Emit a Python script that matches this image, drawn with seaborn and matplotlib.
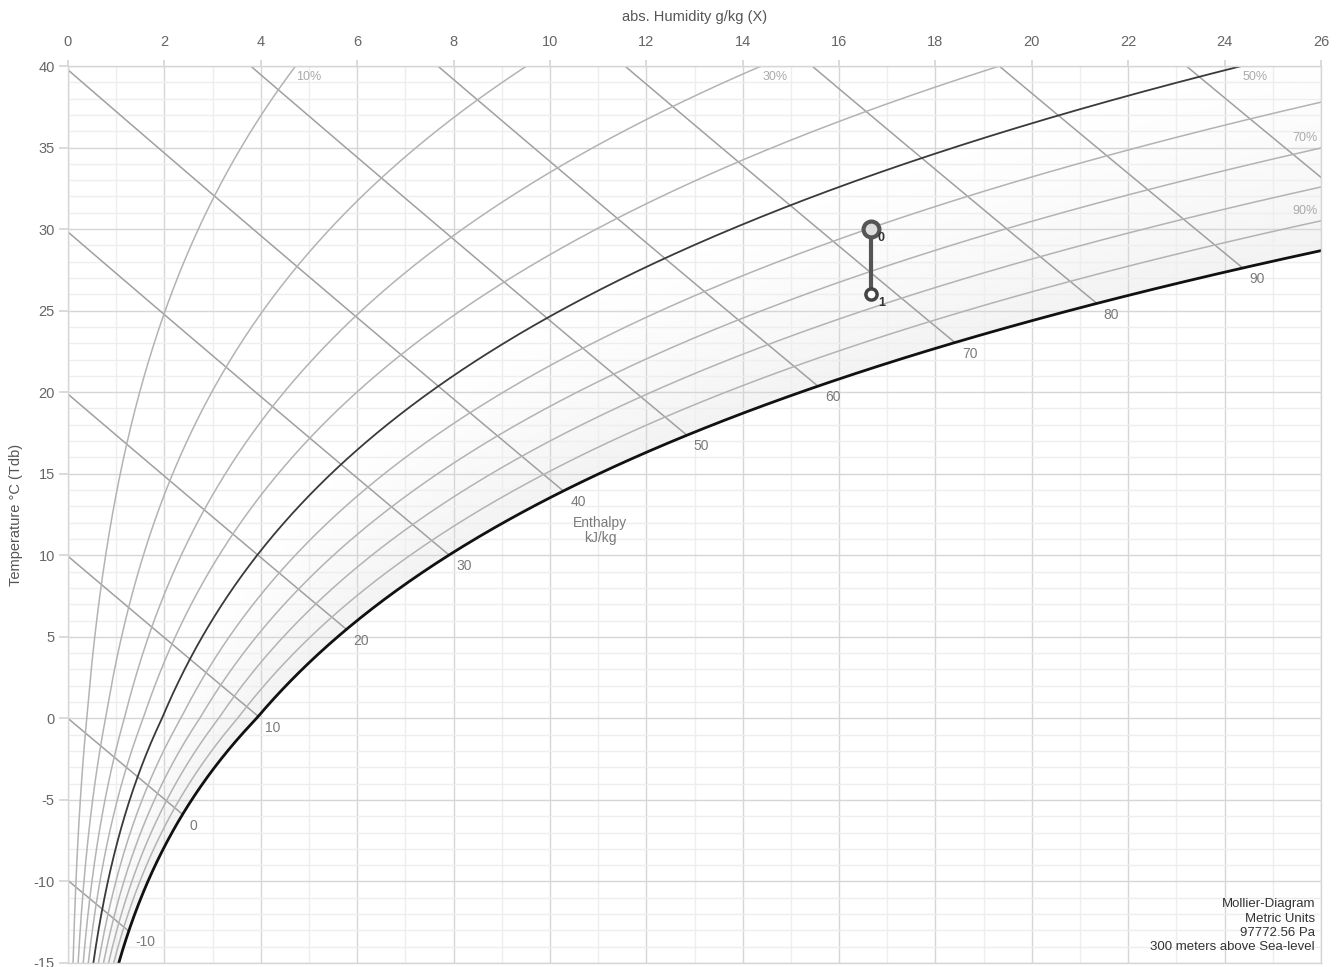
import numpy as np
import pandas as pd
import matplotlib
matplotlib.use("Agg")
import matplotlib.pyplot as plt
from matplotlib.ticker import MultipleLocator
import seaborn as sns

# ---- chart data -------------------------------------------------------------
pressure_pa = 97772.56
altitude_m = 300
rh_levels = [10, 20, 30, 40, 50, 60, 70, 80, 90, 100]
rh_labelled = [10, 30, 50, 70, 90]
enthalpy_levels = [-10, 0, 10, 20, 30, 40, 50, 60, 70, 80, 90, 100]
enthalpy_labelled = [-10, 0, 10, 20, 30, 40, 50, 60, 70, 80, 90]
state_ids = ["0", "1"]
state_x = [16.66, 16.66]   # g/kg
state_t = [30.0, 26.0]     # degC
x_ticks = list(range(0, 27, 2))
t_ticks = list(range(-15, 41, 5))
x_min, x_max = 0, 26
t_min, t_max = -15, 40

# ---- psychrometric relations ----------------------------------------------
def p_sat(t):
    t = np.asarray(t, dtype=float)
    water = 611.2 * np.exp(17.62 * t / (243.12 + t))
    ice = 611.2 * np.exp(22.46 * t / (272.62 + t))
    return np.where(t >= 0, water, ice)


def x_of(t, rh):
    pw = rh / 100.0 * p_sat(t)
    return 622.0 * pw / (pressure_pa - pw)


def enthalpy(t, x):
    return 1.006 * t + x / 1000.0 * (2501.0 + 1.86 * t)


def t_on_h(h, x):
    return (h - 2.501 * x) / (1.006 + 0.00186 * x)


t_grid = np.linspace(t_min, t_max, 700)

# ---- styling ----------------------------------------------------------------
sns.set_theme(style="white")
plt.rcParams["font.family"] = ["Liberation Sans", "DejaVu Sans"]
plt.rcParams["axes.unicode_minus"] = False

W, H = 1341, 967
fig = plt.figure(figsize=(W / 100, H / 100), dpi=100)
ax = fig.add_axes([68 / W, 1 - 963 / H, (1321 - 68) / W, (963 - 66) / H])
ax.set_xlim(x_min, x_max)
ax.set_ylim(t_min, t_max)

# grid
ax.set_axisbelow(True)
ax.xaxis.set_major_locator(MultipleLocator(2))
ax.xaxis.set_minor_locator(MultipleLocator(1))
ax.yaxis.set_major_locator(MultipleLocator(5))
ax.yaxis.set_minor_locator(MultipleLocator(1))
ax.grid(which="major", color="#d6d6d6", linewidth=1.0)
ax.grid(which="minor", color="#eeeeee", linewidth=1.0)
for s in ax.spines.values():
    s.set_color("#d6d6d6")
    s.set_linewidth(1.0)

ax.xaxis.tick_top()
ax.set_xticks(x_ticks)
ax.set_yticks(t_ticks)
ax.tick_params(axis="x", which="major", top=True, bottom=False, length=4,
               color="#d6d6d6", labelcolor="#666666", labelsize=10.5, pad=8)
ax.tick_params(axis="y", which="major", left=True, length=6.5,
               color="#d6d6d6", labelcolor="#666666", labelsize=10.5, pad=3)
ax.tick_params(which="minor", length=0)

# ---- shaded band between 50 % and saturation ---------------------------------
band_edges = np.arange(50, 101, 2)
for i in range(len(band_edges) - 1):
    a, b = band_edges[i], band_edges[i + 1]
    frac = (i + 0.5) / (len(band_edges) - 1)
    g = 1.0 - 0.05 * frac
    ax.fill_betweenx(t_grid, x_of(t_grid, a), x_of(t_grid, b),
                     color=(g, g, g), linewidth=0, zorder=0.3)

# ---- relative humidity curves ------------------------------------------------
rh_frames = []
for rh in rh_levels:
    rh_frames.append(pd.DataFrame({"x": x_of(t_grid, rh), "t": t_grid, "rh": rh}))
rh_df = pd.concat(rh_frames, ignore_index=True)

for rh in rh_levels:
    sub = rh_df[rh_df["rh"] == rh]
    if rh == 100:
        color, lw = "#111111", 2.0
    elif rh == 50:
        color, lw = "#3a3a3a", 1.3
    else:
        color, lw = "#b3b3b3", 1.1
    sns.lineplot(data=sub, x="x", y="t", sort=False, estimator=None,
                 color=color, linewidth=lw, ax=ax, zorder=2)

# ---- enthalpy lines ----------------------------------------------------------
h_sat_grid = enthalpy(t_grid, x_of(t_grid, 100))
h_frames = []
h_ends = {}
for h in enthalpy_levels:
    t_end = np.interp(h, h_sat_grid, t_grid)
    x_end = float(x_of(t_end, 100))
    if h / 1.006 <= t_max:
        x_start = 0.0
    else:
        x_start = (h - 1.006 * t_max) / (2.501 + 0.00186 * t_max)
    xs = np.linspace(x_start, x_end, 60)
    h_frames.append(pd.DataFrame({"x": xs, "t": t_on_h(h, xs), "h": h}))
    h_ends[h] = (x_end, t_end)
h_df = pd.concat(h_frames, ignore_index=True)
for h in enthalpy_levels:
    sub = h_df[h_df["h"] == h]
    sns.lineplot(data=sub, x="x", y="t", sort=False, estimator=None,
                 color="#a0a0a0", linewidth=1.1, ax=ax, zorder=1.5)

for h in enthalpy_labelled:
    xe, te = h_ends[h]
    ax.annotate(str(h), (xe, te), xytext=(5, -3), textcoords="offset points",
                ha="left", va="top", fontsize=10, color="#7a7a7a", zorder=5)

ax.text(11.04, 11.5, "Enthalpy\nkJ/kg", ha="center", va="center",
        fontsize=10, color="#7a7a7a", linespacing=1.1)

# ---- relative humidity labels ------------------------------------------------
for rh in rh_labelled:
    x_top = float(x_of(t_max, rh))
    if x_top <= x_max:
        ax.text(x_top + 0.02, t_max - 0.3, f"{rh}%", ha="left", va="top",
                fontsize=9, color="#aaaaaa", zorder=5)
    else:
        t_edge = np.interp(x_max, x_of(t_grid, rh), t_grid)
        ax.text(x_max - 0.08, t_edge + 0.25, f"{rh}%", ha="right", va="bottom",
                fontsize=9, color="#aaaaaa", zorder=5)

# ---- process states ----------------------------------------------------------
states = pd.DataFrame({"id": state_ids, "x": state_x, "t": state_t})
sns.lineplot(data=states, x="x", y="t", sort=False, estimator=None,
             color="#555555", linewidth=3, ax=ax, zorder=6)
sns.scatterplot(data=states.iloc[:1], x="x", y="t", s=130, color="#dddddd",
                edgecolor="#555555", linewidth=3, ax=ax, zorder=7)
sns.scatterplot(data=states.iloc[1:], x="x", y="t", s=65, color="white",
                edgecolor="#444444", linewidth=2.5, ax=ax, zorder=7)
for sid, sx, st in zip(state_ids, state_x, state_t):
    ax.annotate(sid, (sx, st), xytext=(5, -2), textcoords="offset points",
                ha="left", va="top", fontsize=9, fontweight="bold",
                color="#333333", zorder=8)

ax.set_xlabel("")
ax.set_ylabel("")

# ---- axis titles and footnote ------------------------------------------------
fig.text(695 / W, 1 - 17 / H, "abs. Humidity g/kg (X)", ha="center", va="center",
         fontsize=10.5, color="#555555")
fig.text(16 / W, 1 - 515 / H, "Temperature °C (Tdb)", ha="center", va="center",
         rotation=90, fontsize=10.5, color="#555555")
ax.text(0.9953, 0.011,
        f"Mollier-Diagram\nMetric Units\n{pressure_pa:.2f} Pa\n"
        f"{altitude_m} meters above Sea-level",
        transform=ax.transAxes, ha="right", va="bottom", fontsize=9.5,
        color="#333333", linespacing=1.25, zorder=8)

fig.savefig("out.png", dpi=100)
